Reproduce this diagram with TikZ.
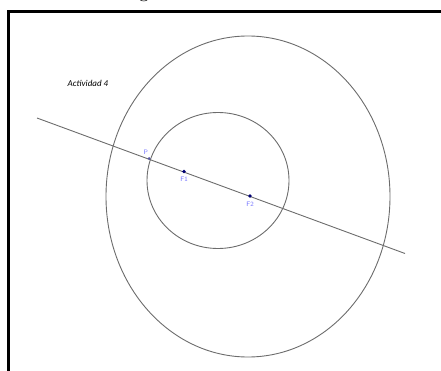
\documentclass[tikz,border=0pt]{standalone}
\usepackage{fontspec}
\newfontfamily\notefont{Carlito}
\usetikzlibrary{positioning}

\begin{document}
\begin{tikzpicture}[x=1pt, y=-1pt,
    curve/.style={gray!85!black, line width=0.9pt},
    frame/.style={black, line width=2.6pt},
    pt/.style={circle, fill=blue!45!black, inner sep=0pt, minimum size=3.8pt},
    lbl/.style={text=blue!55, font=\sffamily\fontsize{6.5}{7}\selectfont, inner sep=0.5pt}
  ]
  \useasboundingbox (0,0) rectangle (441,371);

  % heading cut off at the top
  \node[anchor=base, font=\bfseries\fontsize{16}{18}\selectfont] (head) at (144,-1) {g};

  % frame
  \draw[frame] (441,11.5) -- (8.5,11.5) -- (8.5,371);

  \node[font=\notefont\itshape\fontsize{9}{10}\selectfont] (title) at (88,83) {Actividad 4};

  % circles
  \draw[curve] (248,196.5) ellipse [x radius=142, y radius=160.5];
  \draw[curve] (218,180.5) ellipse [x radius=71, y radius=68];

  % line through the foci
  \coordinate (L1) at (37,118);
  \coordinate (L2) at (405,253.5);
  \draw[curve] (L1) -- (L2);

  % points
  \node[pt, fill=blue!30!gray, minimum size=3pt] (P) at (149,158.5) {};
  \node[pt] (F1) at (184,171.5) {};
  \node[pt] (F2) at (250,196) {};
  \node[lbl, above left=2pt and -1pt of P] {P};
  \node[lbl, below=3pt of F1] {F1};
  \node[lbl, below=3pt of F2] {F2};
\end{tikzpicture}
\end{document}
